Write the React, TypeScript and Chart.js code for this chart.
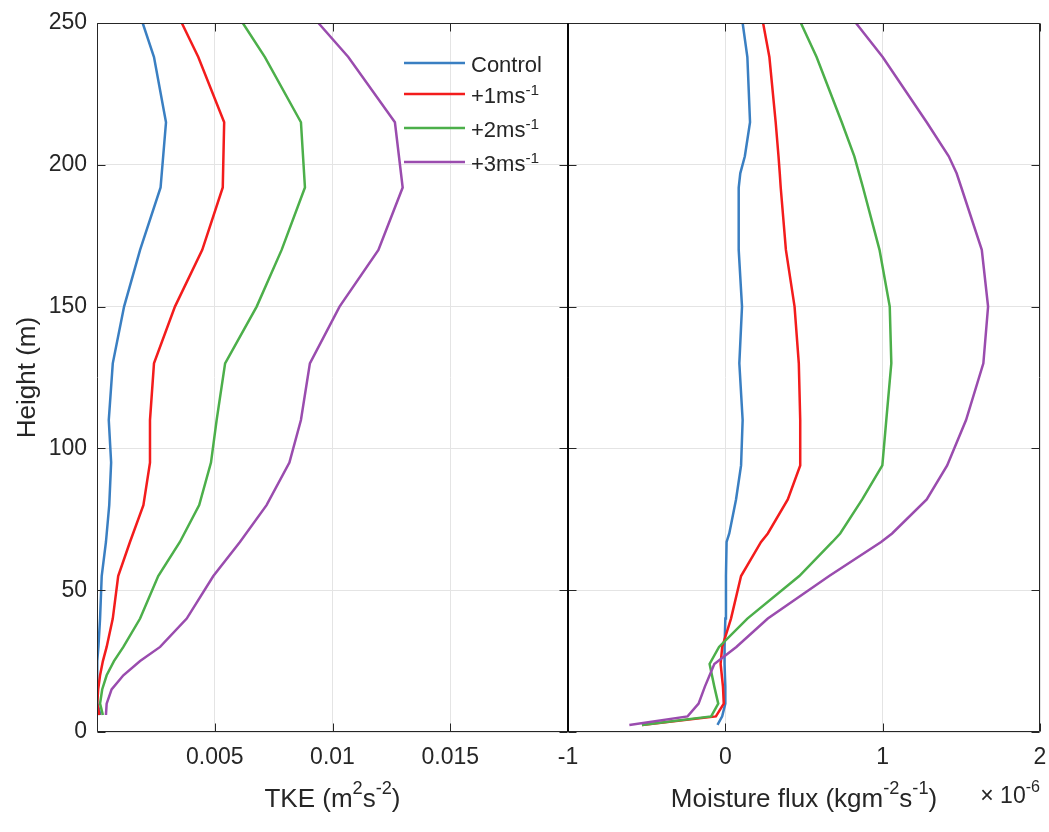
import React, { useEffect, useRef } from 'react';
import { Chart, registerables } from 'chart.js';

Chart.register(...registerables);

const FONT = '"Liberation Sans", Arial, Helvetica, sans-serif';
const TEXT = '#262626';
const GRID = '#e4e4e4';

// ---------- data ----------
const seriesLabels = ['Control', '+1ms', '+2ms', '+3ms'];
const seriesSup = ['', '-1', '-1', '-1'];
const seriesColors = ['#3a7fc2', '#f31c1c', '#4caf4a', '#9a4cae'];

const tkeTickLabels = ['0.005', '0.01', '0.015'];
const fluxTickLabels = ['-1', '0', '1', '2'];

// TKE panel (m^2 s^-2)
const tkeHeights = [6, 10, 15, 20, 25, 30, 40, 55, 67, 80, 95, 110, 130, 150, 170, 192, 215, 238, 250];
const tkeControl = [0.00015, 0.00002, 0, 0, 0.00003, 0.00006, 0.00013, 0.0002, 0.00038, 0.00052, 0.0006, 0.0005, 0.00067, 0.00115, 0.00183, 0.0027, 0.00293, 0.00242, 0.00194];
const tkePlus1 = [0.0001, 0.00001, 0.00005, 0.00013, 0.00025, 0.00041, 0.00067, 0.0009, 0.0014, 0.00197, 0.00225, 0.00225, 0.00242, 0.00331, 0.00447, 0.00534, 0.0054, 0.0043, 0.0036];
const tkePlus2 = [0.00025, 0.00013, 0.00022, 0.00041, 0.00072, 0.00112, 0.00183, 0.0026, 0.00352, 0.00434, 0.00484, 0.00508, 0.00544, 0.00678, 0.00784, 0.00883, 0.00866, 0.00713, 0.00619];
const tkePlus3 = [0.00038, 0.00041, 0.00062, 0.00112, 0.00183, 0.00268, 0.00381, 0.00494, 0.00607, 0.0072, 0.00817, 0.00866, 0.00904, 0.0103, 0.01195, 0.01298, 0.01265, 0.01067, 0.0094];

// Moisture flux panel (x 10^-6 kg m^-2 s^-1)
const fluxHeights = [2.5, 5.5, 10, 16, 24, 30, 40, 55, 67, 70, 82, 94, 110, 130, 150, 170, 192, 197, 203, 215, 238, 250];
const fluxControl = [-0.05, -0.02, 0, 0, -0.005, -0.005, 0, 0.004, 0.008, 0.025, 0.068, 0.1, 0.11, 0.089, 0.106, 0.085, 0.085, 0.095, 0.124, 0.157, 0.14, 0.11];
const fluxPlus1 = [-0.53, -0.06, -0.01, -0.015, -0.03, -0.02, 0.036, 0.1, 0.227, 0.27, 0.397, 0.476, 0.476, 0.467, 0.44, 0.385, 0.352, 0.346, 0.338, 0.32, 0.28, 0.24];
const fluxPlus2 = [-0.53, -0.09, -0.045, -0.07, -0.1, -0.04, 0.14, 0.47, 0.68, 0.73, 0.87, 0.998, 1.023, 1.055, 1.045, 0.98, 0.875, 0.85, 0.82, 0.74, 0.58, 0.48];
const fluxPlus3 = [-0.61, -0.24, -0.17, -0.13, -0.07, 0.07, 0.27, 0.66, 0.99, 1.06, 1.28, 1.41, 1.53, 1.64, 1.67, 1.63, 1.5, 1.47, 1.42, 1.28, 1.0, 0.83];

const tkeSeries = [tkeControl, tkePlus1, tkePlus2, tkePlus3];
const fluxSeries = [fluxControl, fluxPlus1, fluxPlus2, fluxPlus3];

// ---------- helpers ----------
type Seg = { t: string; sup?: boolean };

function drawRich(
  ctx: CanvasRenderingContext2D,
  segs: Seg[],
  x: number,
  y: number,
  size: number,
  align: 'left' | 'center' | 'right',
  supScale: number,
  supRaise: number
) {
  ctx.save();
  ctx.textBaseline = 'alphabetic';
  ctx.textAlign = 'left';
  ctx.fillStyle = TEXT;
  const widths = segs.map((s) => {
    ctx.font = `${s.sup ? size * supScale : size}px ${FONT}`;
    return ctx.measureText(s.t).width;
  });
  const total = widths.reduce((a, b) => a + b, 0);
  let cx = align === 'left' ? x : align === 'center' ? x - total / 2 : x - total;
  segs.forEach((s, i) => {
    ctx.font = `${s.sup ? size * supScale : size}px ${FONT}`;
    ctx.fillText(s.t, cx, s.sup ? y - size * supRaise : y);
    cx += widths[i];
  });
  ctx.restore();
}

function framePlugin(leftThick: boolean) {
  return {
    id: 'frame',
    afterDatasetsDraw(chart: any) {
      const { ctx, chartArea: a, scales } = chart;
      const L = Math.round(a.left) + 0.5;
      const R = Math.round(a.right) - 0.5;
      const T = Math.round(a.top) + 0.5;
      const B = Math.round(a.bottom) - 0.5;
      const tl = 8;
      ctx.save();
      ctx.strokeStyle = TEXT;
      ctx.lineWidth = 1;
      ctx.beginPath();
      ctx.moveTo(L, T);
      ctx.lineTo(R, T);
      ctx.lineTo(R, B);
      ctx.lineTo(L, B);
      ctx.lineTo(L, T);
      scales.x.ticks.forEach((t: any) => {
        const px = Math.round(scales.x.getPixelForValue(t.value)) + 0.5;
        ctx.moveTo(px, B);
        ctx.lineTo(px, B - tl);
        ctx.moveTo(px, T);
        ctx.lineTo(px, T + tl);
      });
      scales.y.ticks.forEach((t: any) => {
        const py = Math.round(scales.y.getPixelForValue(t.value)) + 0.5;
        ctx.moveTo(L, py);
        ctx.lineTo(L + tl, py);
        ctx.moveTo(R, py);
        ctx.lineTo(R - tl, py);
      });
      ctx.stroke();
      if (leftThick) {
        ctx.strokeStyle = '#000';
        ctx.lineWidth = 1.6;
        ctx.beginPath();
        ctx.moveTo(Math.round(a.left), a.top);
        ctx.lineTo(Math.round(a.left), a.bottom);
        ctx.stroke();
      }
      ctx.restore();
    },
  };
}

const leftTextPlugin = {
  id: 'leftText',
  afterDraw(chart: any) {
    const { ctx, chartArea: a } = chart;
    ctx.save();
    ctx.translate(35, (a.top + a.bottom) / 2);
    ctx.rotate(-Math.PI / 2);
    ctx.font = `26px ${FONT}`;
    ctx.fillStyle = TEXT;
    ctx.textAlign = 'center';
    ctx.textBaseline = 'alphabetic';
    ctx.fillText('Height (m)', 0, 0);
    ctx.restore();
    drawRich(
      ctx,
      [{ t: 'TKE (m' }, { t: '2', sup: true }, { t: 's' }, { t: '-2', sup: true }, { t: ')' }],
      (a.left + a.right) / 2,
      807,
      26,
      'center',
      0.7,
      0.5
    );
    const x0 = a.right - 164;
    const x1 = a.right - 103;
    const rows = [63, 94, 128, 162];
    rows.forEach((ry, i) => {
      ctx.save();
      ctx.strokeStyle = seriesColors[i];
      ctx.lineWidth = 2.5;
      ctx.beginPath();
      ctx.moveTo(x0, ry);
      ctx.lineTo(x1, ry);
      ctx.stroke();
      ctx.restore();
      const segs: Seg[] = [{ t: seriesLabels[i] }];
      if (seriesSup[i]) segs.push({ t: seriesSup[i], sup: true });
      drawRich(ctx, segs, x1 + 6, ry + 9, 22, 'left', 0.7, 0.36);
    });
  },
};

const rightTextPlugin = {
  id: 'rightText',
  afterDraw(chart: any) {
    const { ctx, chartArea: a } = chart;
    drawRich(
      ctx,
      [
        { t: 'Moisture flux (kgm' },
        { t: '-2', sup: true },
        { t: 's' },
        { t: '-1', sup: true },
        { t: ')' },
      ],
      (a.left + a.right) / 2,
      807,
      26,
      'center',
      0.7,
      0.5
    );
    drawRich(ctx, [{ t: '\u00d7 10' }, { t: '-6', sup: true }], a.right, 803, 23, 'right', 0.7, 0.5);
  },
};

function buildDatasets(heights: number[], series: number[][]) {
  return series.map((vals, i) => ({
    label: seriesLabels[i],
    data: vals.map((v, k) => ({ x: v, y: heights[k] })),
    borderColor: seriesColors[i],
    backgroundColor: seriesColors[i],
    borderWidth: 2.5,
    pointRadius: 0,
    pointHoverRadius: 0,
    showLine: true,
    tension: 0,
    fill: false,
    order: 3 - i,
  }));
}

const tickFont = { family: FONT, size: 23 };

function xFit(s: any) {
  s.height = 100;
  s.paddingLeft = 0;
  s.paddingRight = 0;
}

export default function App() {
  const leftRef = useRef<HTMLCanvasElement>(null);
  const rightRef = useRef<HTMLCanvasElement>(null);

  useEffect(() => {
    const left = new Chart(leftRef.current as HTMLCanvasElement, {
      type: 'scatter',
      data: { datasets: buildDatasets(tkeHeights, tkeSeries) as any },
      options: {
        animation: false,
        responsive: false,
        layout: { padding: { left: 0, right: 12, top: 23, bottom: 0 } },
        plugins: { legend: { display: false }, tooltip: { enabled: false } },
        scales: {
          x: {
            type: 'linear',
            min: 0,
            max: 0.02,
            grid: { color: GRID, drawTicks: false },
            border: { display: false },
            ticks: {
              stepSize: 0.005,
              autoSkip: false,
              maxRotation: 0,
              padding: 12,
              color: TEXT,
              font: tickFont,
              callback: (v: any) => {
                const s = String(Math.round(Number(v) * 1000) / 1000);
                return tkeTickLabels.includes(s) ? s : '';
              },
            },
            afterFit: xFit,
          },
          y: {
            type: 'linear',
            min: 0,
            max: 250,
            grid: { color: GRID, drawTicks: false },
            border: { display: false },
            ticks: { stepSize: 50, padding: 10, color: TEXT, font: tickFont },
            afterFit: (s: any) => {
              s.width = 97;
              s.paddingTop = 0;
              s.paddingBottom = 0;
            },
          },
        },
      },
      plugins: [framePlugin(false), leftTextPlugin],
    } as any);

    const right = new Chart(rightRef.current as HTMLCanvasElement, {
      type: 'scatter',
      data: { datasets: buildDatasets(fluxHeights, fluxSeries) as any },
      options: {
        animation: false,
        responsive: false,
        layout: { padding: { left: 12, right: 9, top: 23, bottom: 0 } },
        plugins: { legend: { display: false }, tooltip: { enabled: false } },
        scales: {
          x: {
            type: 'linear',
            min: -1,
            max: 2,
            grid: { color: GRID, drawTicks: false },
            border: { display: false },
            ticks: {
              stepSize: 1,
              autoSkip: false,
              maxRotation: 0,
              padding: 12,
              color: TEXT,
              font: tickFont,
              callback: (v: any) => {
                const s = String(Math.round(Number(v)));
                return fluxTickLabels.includes(s) ? s : '';
              },
            },
            afterFit: xFit,
          },
          y: {
            type: 'linear',
            min: 0,
            max: 250,
            grid: { color: GRID, drawTicks: false },
            border: { display: false },
            ticks: { stepSize: 50, display: false },
            afterFit: (s: any) => {
              s.width = 0;
              s.paddingTop = 0;
              s.paddingBottom = 0;
            },
          },
        },
      },
      plugins: [framePlugin(true), rightTextPlugin],
    } as any);

    return () => {
      left.destroy();
      right.destroy();
    };
  }, []);

  return (
    <div style={{ position: 'absolute', left: 0, top: 0, width: 1049, height: 832, background: '#fff' }}>
      <canvas ref={leftRef} width={580} height={832} style={{ position: 'absolute', left: 0, top: 0 }} />
      <canvas ref={rightRef} width={493} height={832} style={{ position: 'absolute', left: 556, top: 0 }} />
    </div>
  );
}
